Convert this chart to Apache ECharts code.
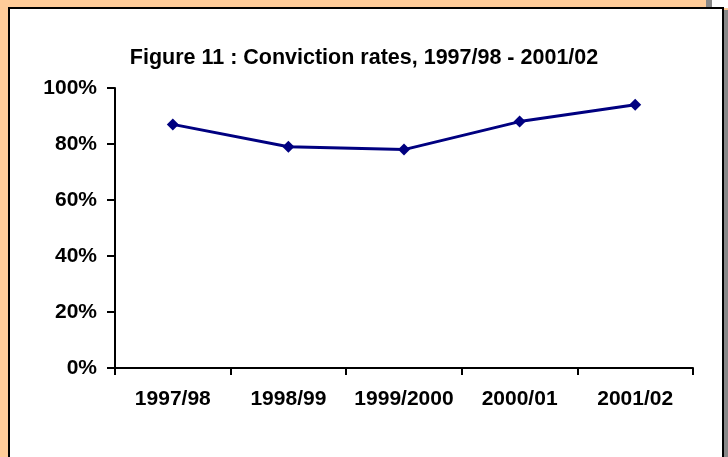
<!DOCTYPE html>
<html>
<head>
<meta charset="utf-8">
<script src="https://cdn.jsdelivr.net/npm/echarts@6/dist/echarts.min.js"></script>
<style>
html,body{margin:0;padding:0;background:#FFCC99;}
#c{width:728px;height:457px;}
</style>
</head>
<body>
<div id="c"></div>
<script>
const titleText = 'Figure 11 : Conviction rates, 1997/98 - 2001/02';
const categories = ['1997/98', '1998/99', '1999/2000', '2000/01', '2001/02'];
const convictionRates = [0.87, 0.79, 0.78, 0.88, 0.94];
const yTicks = [0, 0.2, 0.4, 0.6, 0.8, 1.0];

const chart = echarts.init(document.getElementById('c'), null, {renderer: 'canvas'});
const font = '"Liberation Sans", Arial, Helvetica, sans-serif';
chart.setOption({
  backgroundColor: '#FFCC99',
  animation: false,
  graphic: [
    {type: 'rect', shape: {x: 706, y: 0, width: 6, height: 8}, style: {fill: '#888888'}, z: -20},
    {type: 'rect', shape: {x: 712, y: 0, width: 16, height: 8}, style: {fill: '#ffffff'}, z: -20},
    {type: 'rect', shape: {x: 724, y: 10, width: 4, height: 447}, style: {fill: '#888888'}, z: -20},
    {type: 'rect', shape: {x: 9, y: 8, width: 714, height: 460}, style: {fill: '#ffffff', stroke: '#000000', lineWidth: 2}, z: -10}
  ],
  title: {
    text: titleText,
    left: 'center',
    top: 42,
    textStyle: {fontFamily: font, fontSize: 21.5, fontWeight: 'bold', color: '#000'}
  },
  grid: {left: 115, right: 35, top: 88, bottom: 89, containLabel: false},
  xAxis: {
    type: 'category',
    data: categories,
    boundaryGap: true,
    axisLine: {lineStyle: {color: '#000', width: 2}},
    axisTick: {show: true, interval: 0, length: 7, lineStyle: {color: '#000', width: 2}, alignWithLabel: false},
    axisLabel: {interval: 0, fontFamily: font, fontSize: 21, fontWeight: 'bold', color: '#000', margin: 21}
  },
  yAxis: {
    type: 'value',
    min: yTicks[0],
    max: yTicks[yTicks.length - 1],
    interval: 0.2,
    splitLine: {show: false},
    axisLine: {show: true, lineStyle: {color: '#000', width: 2}},
    axisTick: {show: true, length: 8, lineStyle: {color: '#000', width: 2}},
    axisLabel: {fontFamily: font, fontSize: 21, fontWeight: 'bold', color: '#000', margin: 18,
      padding: [4, 0, 0, 0],
      formatter: v => Math.round(v * 100) + '%'}
  },
  series: [{
    type: 'line',
    data: convictionRates,
    symbol: 'diamond',
    symbolSize: 12,
    lineStyle: {color: '#000080', width: 3},
    itemStyle: {color: '#000080'}
  }]
});
</script>
</body>
</html>
